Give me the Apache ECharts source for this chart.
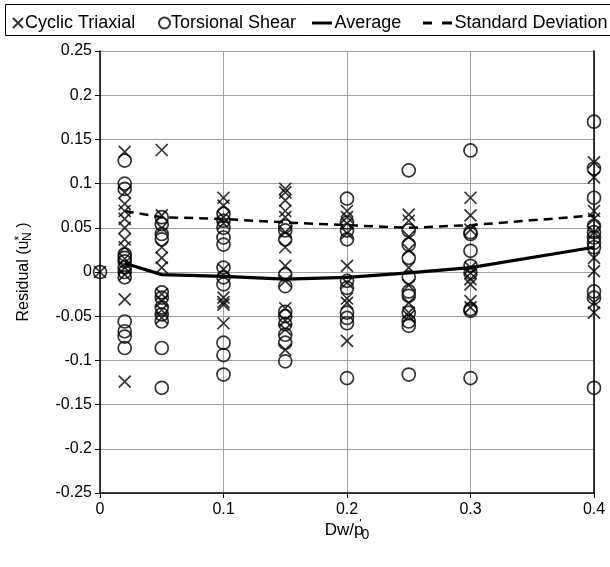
<!DOCTYPE html>
<html>
<head>
<meta charset="utf-8">
<script src="https://cdn.jsdelivr.net/npm/echarts@6/dist/echarts.min.js"></script>
<style>
html,body{margin:0;padding:0;background:#fff;}
#chart{width:610px;height:567px;}
</style>
</head>
<body>
<div id="chart"></div>
<script>
// ---- data ----
const xTicks = [0, 0.1, 0.2, 0.3, 0.4];
const yTicks = [-0.25, -0.2, -0.15, -0.1, -0.05, 0, 0.05, 0.1, 0.15, 0.2, 0.25];

// Cyclic Triaxial (x markers), grouped by Dw/p'0
const ctX = [0, 0.02, 0.05, 0.1, 0.15, 0.2, 0.25, 0.3, 0.4];
const ctY = [
  [0],
  [0.136, 0.090, 0.077, 0.069, 0.060, 0.050, 0.037, 0.028, 0.015, 0.005, -0.003, -0.031, -0.124],
  [0.138, 0.064, 0.050, 0.028, 0.016, 0.005, -0.025, -0.033, -0.043, -0.052],
  [0.084, 0.075, 0.062, 0.055, 0.003, -0.029, -0.034, -0.037, -0.058],
  [0.094, 0.090, 0.081, 0.069, 0.062, 0.045, 0.028, 0.007, -0.010, -0.041, -0.055, -0.065, -0.088],
  [0.069, 0.062, 0.055, 0.044, 0.007, -0.012, -0.030, -0.035, -0.078],
  [0.065, 0.058, 0.040, 0.025, 0.005, -0.015, -0.035, -0.046, -0.050],
  [0.084, 0.064, 0.048, 0.005, -0.001, -0.008, -0.014, -0.033, -0.040],
  [0.124, 0.107, 0.069, 0.060, 0.045, 0.016, 0.001, -0.035, -0.046]
];

// Torsional Shear (circle markers)
const tsX = [0, 0.02, 0.05, 0.1, 0.15, 0.2, 0.25, 0.3, 0.4];
const tsY = [
  [0],
  [0.126, 0.100, 0.094, 0.020, 0.016, 0.012, 0.005, 0.000, -0.006, -0.056, -0.067, -0.073, -0.086],
  [0.062, 0.054, 0.043, 0.037, -0.023, -0.029, -0.040, -0.048, -0.056, -0.086, -0.131],
  [0.066, 0.058, 0.050, 0.039, 0.031, 0.005, -0.006, -0.014, -0.080, -0.094, -0.116],
  [0.052, 0.047, 0.037, -0.003, -0.016, -0.045, -0.050, -0.059, -0.071, -0.080, -0.101],
  [0.083, 0.056, 0.047, 0.037, -0.010, -0.018, -0.046, -0.052, -0.058, -0.120],
  [0.115, 0.047, 0.031, 0.016, -0.006, -0.022, -0.027, -0.046, -0.056, -0.061, -0.116],
  [0.1375, 0.045, 0.043, 0.024, 0.007, -0.001, -0.042, -0.044, -0.120],
  [0.170, 0.117, 0.084, 0.052, 0.045, 0.039, 0.033, 0.028, -0.022, -0.029, -0.131]
];

const lineX = [0.02, 0.05, 0.1, 0.15, 0.2, 0.25, 0.3, 0.4];
const avgY = [0.010, -0.003, -0.005, -0.008, -0.006, -0.001, 0.005, 0.028];
const sdY  = [0.069, 0.062, 0.060, 0.056, 0.053, 0.050, 0.053, 0.064];

// ---- build series data ----
function pairs(xs, ys) {
  const out = [];
  xs.forEach((x, i) => ys[i].forEach(y => out.push([x, y])));
  return out;
}
const ctData = pairs(ctX, ctY);
const tsData = pairs(tsX, tsY);
const avgData = lineX.map((x, i) => [x, avgY[i]]);
const sdData = lineX.map((x, i) => [x, sdY[i]]);

const FONT = 'Liberation Sans';
const crossPath = 'path://M0,0L10,10M10,0L0,10';
const hollow = { color: 'rgba(0,0,0,0)', borderColor: '#000', borderWidth: 1.7 };

const chart = echarts.init(document.getElementById('chart'), null, { renderer: 'canvas' });

const legendText = { fontFamily: FONT, fontSize: 18, color: '#000' };
chart.setOption({
  animation: false,
  backgroundColor: '#fff',
  textStyle: { fontFamily: FONT },
  graphic: [{
    type: 'rect', left: 3, top: 2, z: 10,
    shape: { width: 640, height: 31 },
    style: { fill: 'none', stroke: '#000', lineWidth: 1 }
  }],
  legend: [
    { data: [{ name: 'Cyclic Triaxial', icon: crossPath }], left: 7, top: 9, itemWidth: 10, itemHeight: 10, itemGap: 0, textStyle: Object.assign({ padding: [0, 0, 0, -3] }, legendText) },
    { data: [{ name: 'Torsional Shear', icon: 'circle' }], left: 153, top: 9, itemWidth: 11, itemHeight: 11, textStyle: Object.assign({ padding: [0, 0, 0, -4] }, legendText) },
    { data: [{ name: 'Average', icon: 'path://M0,0H20V3H0Z', itemStyle: { color: '#000', borderWidth: 0 } }], left: 307, top: 9, itemWidth: 21, itemHeight: 3, textStyle: Object.assign({ padding: [0, 0, 0, -3] }, legendText) },
    { data: [{ name: 'Standard Deviation', icon: 'path://M0,0H9V3H0ZM19,0H29V3H19Z', itemStyle: { color: '#000', borderWidth: 0 } }], left: 418, top: 9, itemWidth: 30, itemHeight: 3, textStyle: Object.assign({ padding: [0, 0, 0, -3] }, legendText) }
  ],
  grid: { left: 100, right: 16, top: 51, bottom: 74, containLabel: false },
  xAxis: {
    type: 'value', min: xTicks[0], max: xTicks[xTicks.length - 1], interval: 0.1,
    name: "{a|Dw/p}{s|'}{b|0}", nameLocation: 'middle', nameGap: 25, nameMoveOverlap: false,
    nameTextStyle: {
      rich: {
        a: { fontFamily: FONT, fontSize: 17, color: '#000' },
        s: { fontFamily: FONT, fontSize: 11, color: '#000', verticalAlign: 'top', padding: [0, 0, 8, -4] },
        b: { fontFamily: FONT, fontSize: 14, color: '#000', padding: [10, 0, 0, 0] }
      }
    },
    axisLine: { onZero: false, lineStyle: { color: '#000', width: 1.5 } },
    axisTick: { show: true, length: 5, lineStyle: { color: '#000' } },
    axisLabel: { fontFamily: FONT, fontSize: 16, color: '#000', margin: 9,
      formatter: v => String(Math.round(v * 10) / 10) },
    splitLine: { show: true, lineStyle: { color: '#a0a0a0', width: 1 } }
  },
  yAxis: [{
    type: 'value', min: yTicks[0], max: yTicks[yTicks.length - 1], interval: 0.05,
    name: '{a|Residual (u}{s|*}{b|N}{a| )}', nameLocation: 'middle', nameGap: 66, nameRotate: 90,
    nameTextStyle: {
      rich: {
        a: { fontFamily: FONT, fontSize: 16, color: '#000' },
        s: { fontFamily: FONT, fontSize: 12, color: '#000', padding: [0, 0, 8, 0] },
        b: { fontFamily: FONT, fontSize: 12, color: '#000', padding: [8, 0, 0, -5] }
      }
    },
    axisLine: { onZero: false, lineStyle: { color: '#000', width: 1.5 } },
    axisTick: { show: true, length: 5, lineStyle: { color: '#000' } },
    axisLabel: { fontFamily: FONT, fontSize: 16, color: '#000', margin: 8,
      formatter: v => String(Math.round(v * 100) / 100) },
    splitLine: { show: true, lineStyle: { color: '#a0a0a0', width: 1 } }
  }, {
    type: 'value', position: 'right', min: yTicks[0], max: yTicks[yTicks.length - 1], interval: 0.05,
    axisLine: { show: true, onZero: false, lineStyle: { color: '#000', width: 1.5 } },
    axisTick: { show: false }, axisLabel: { show: false }, splitLine: { show: false }
  }],
  series: [
    { name: 'Cyclic Triaxial', type: 'scatter', data: ctData, symbol: crossPath, symbolSize: 12,
      itemStyle: hollow, z: 3, clip: false },
    { name: 'Torsional Shear', type: 'scatter', data: tsData, symbol: 'circle', symbolSize: 13,
      itemStyle: hollow, z: 3, clip: false },
    { name: 'Average', type: 'line', data: avgData, showSymbol: false, symbol: 'none',
      lineStyle: { color: '#000', width: 3.2 }, itemStyle: { color: '#000' }, z: 4 },
    { name: 'Standard Deviation', type: 'line', data: sdData, showSymbol: false, symbol: 'none',
      lineStyle: { color: '#000', width: 2.5, type: [9, 6] }, itemStyle: { color: '#000' }, z: 4 }
  ]
});
</script>
</body>
</html>
